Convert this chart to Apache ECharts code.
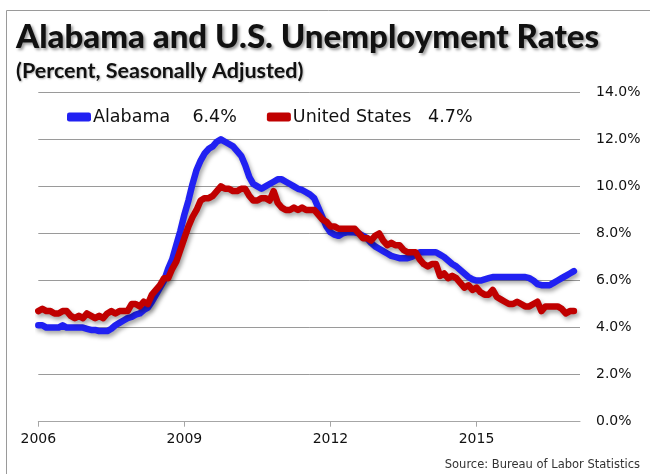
<!DOCTYPE html>
<html><head><meta charset="utf-8">
<script src="https://cdn.jsdelivr.net/npm/echarts@6/dist/echarts.min.js"></script>
<style>html,body{margin:0;padding:0;background:#fff}#c{width:650px;height:474px}</style>
</head><body><div id="c"></div>
<script>
// Monthly data, Jan 2006 .. Jan 2017
const startYear = 2006;
const tickYears = [2006, 2009, 2012, 2015];
const yTicks = [0, 2, 4, 6, 8, 10, 12, 14];
const alabama = [
 4.1,4.1,4.0,4.0,4.0,4.0,4.1,4.0,4.0,4.0,4.0,4.0,
 3.95,3.9,3.9,3.85,3.85,3.85,3.95,4.1,4.2,4.3,4.4,4.45,
 4.55,4.6,4.75,4.85,5.1,5.4,5.7,6.0,6.5,6.9,7.5,8.1,
 8.8,9.4,10.1,10.7,11.1,11.4,11.6,11.7,11.9,12.0,11.9,11.8,
 11.7,11.5,11.3,10.9,10.4,10.1,10.0,9.9,10.0,10.1,10.2,10.3,
 10.3,10.2,10.1,10.0,9.9,9.85,9.75,9.65,9.5,9.1,8.7,8.3,
 8.05,7.95,7.9,8.0,8.05,8.05,8.05,8.0,7.9,7.8,7.6,7.45,
 7.35,7.25,7.15,7.05,7.0,6.95,6.95,6.95,7.0,7.1,7.2,7.2,
 7.2,7.2,7.2,7.1,7.0,6.85,6.7,6.6,6.45,6.3,6.15,6.05,
 6.0,6.0,6.05,6.1,6.15,6.15,6.15,6.15,6.15,6.15,6.15,6.15,
 6.15,6.1,6.0,5.85,5.8,5.8,5.8,5.9,6.0,6.1,6.2,6.3,
 6.4
];
const unitedStates = [
 4.7,4.8,4.7,4.7,4.6,4.6,4.7,4.7,4.5,4.4,4.5,4.4,
 4.6,4.5,4.4,4.5,4.4,4.6,4.7,4.6,4.7,4.7,4.7,5.0,
 5.0,4.9,5.1,5.0,5.4,5.6,5.8,6.1,6.1,6.5,6.8,7.3,
 7.8,8.3,8.7,9.0,9.4,9.5,9.5,9.6,9.8,10.0,9.9,9.9,
 9.8,9.8,9.9,9.9,9.6,9.4,9.4,9.5,9.5,9.4,9.8,9.3,
 9.1,9.0,9.0,9.1,9.0,9.1,9.0,9.0,9.0,8.8,8.6,8.5,
 8.3,8.3,8.2,8.2,8.2,8.2,8.2,8.0,7.8,7.8,7.7,7.9,
 8.0,7.7,7.5,7.6,7.5,7.5,7.3,7.2,7.2,7.2,6.9,6.7,
 6.6,6.7,6.7,6.2,6.3,6.1,6.2,6.1,5.9,5.7,5.8,5.6,
 5.7,5.5,5.4,5.4,5.6,5.3,5.2,5.1,5.0,5.0,5.1,5.0,
 4.9,4.9,5.0,5.1,4.7,4.9,4.9,4.9,4.9,4.8,4.6,4.7,
 4.7
];
const seriesNames = ['Alabama', 'United States'];
const legendSpacer = {'Alabama': '    ', 'United States': '   '};
const titleText = 'Alabama and U.S. Unemployment Rates';
const subtitleText = '(Percent, Seasonally Adjusted)';
const sourceText = 'Source: Bureau of Labor Statistics';

const TFONT = 'Lato, "DejaVu Sans", sans-serif';
const FONT = '"DejaVu Sans", Lato, sans-serif';
const toPairs = arr => arr.map((v, i) => [i, v]);
const tickIdx = tickYears.map(y => (y - startYear) * 12);
const latest = {
  'Alabama': alabama[alabama.length - 1],
  'United States': unitedStates[unitedStates.length - 1]
};
const shadow = {shadowColor: 'rgba(0,0,0,0.35)', shadowBlur: 4, shadowOffsetX: 2, shadowOffsetY: 3};

const chart = echarts.init(document.getElementById('c'), null, {renderer: 'canvas'});
chart.setOption({
  animation: false,
  backgroundColor: '#fff',
  textStyle: {fontFamily: FONT},
  title: [
    {text: titleText, left: 11, top: 16,
     textStyle: {fontFamily: TFONT, fontSize: 33, fontWeight: 900, color: '#111',
       textShadowColor: 'rgba(0,0,0,0.4)', textShadowBlur: 3, textShadowOffsetX: 2, textShadowOffsetY: 2}},
    {text: subtitleText, left: 11, top: 55,
     textStyle: {fontFamily: TFONT, fontSize: 21.5, fontWeight: 'bold', color: '#111',
       textShadowColor: 'rgba(0,0,0,0.3)', textShadowBlur: 2, textShadowOffsetX: 1, textShadowOffsetY: 1}},
    {text: sourceText, right: 5, top: 454,
     textStyle: {fontFamily: FONT, fontSize: 11.5, fontWeight: 'normal', color: '#333'}}
  ],
  legend: {
    left: 62, top: 103, itemWidth: 24, itemHeight: 9, itemGap: 30,
    icon: 'roundRect',
    data: seriesNames,
    formatter: n => n + legendSpacer[n] + latest[n].toFixed(1) + '%',
    textStyle: {fontFamily: FONT, fontSize: 17.5, color: '#111', padding: [0,0,0,-3]}
  },
  grid: {left: 38.3, right: 70, top: 92.3, bottom: 52.3, containLabel: false},
  xAxis: {
    type: 'value', min: 0, max: 133.5,
    axisLine: {show: true, lineStyle: {color: '#a6a6a6', width: 1}},
    axisTick: {show: true, inside: false, length: 5, lineStyle: {color: '#a6a6a6'}, customValues: tickIdx},
    axisLabel: {customValues: tickIdx, formatter: v => String(startYear + Math.round(v / 12)),
      fontFamily: FONT, fontSize: 14, color: '#111', margin: 11},
    splitLine: {show: false}
  },
  yAxis: {
    type: 'value', position: 'right', min: 0, max: 14, interval: 2,
    axisLine: {show: false}, axisTick: {show: false},
    axisLabel: {formatter: v => v.toFixed(1) + '%', fontFamily: FONT, fontSize: 14, color: '#111', margin: 16, align: 'left'},
    splitLine: {lineStyle: {color: '#9a9a9a', width: 1}}
  },
  series: [
    {name: seriesNames[0], type: 'line', data: toPairs(alabama), showSymbol: false, smooth: false,
     color: '#2121f2', lineStyle: Object.assign({width: 6.5, color: '#2121f2', cap: 'round', join: 'round'}, shadow), z: 2},
    {name: seriesNames[1], type: 'line', data: toPairs(unitedStates), showSymbol: false, smooth: false,
     color: '#c00000', lineStyle: Object.assign({width: 6.5, color: '#c00000', cap: 'round', join: 'round'}, shadow), z: 3}
  ],
  graphic: [
    {type: 'line', shape: {x1: 6.5, y1: 10.5, x2: 650, y2: 10.5}, style: {stroke: '#9a9a9a', lineWidth: 1}},
    {type: 'line', shape: {x1: 6.5, y1: 10.5, x2: 6.5, y2: 474}, style: {stroke: '#9a9a9a', lineWidth: 1}}
  ]
});
</script></body></html>
